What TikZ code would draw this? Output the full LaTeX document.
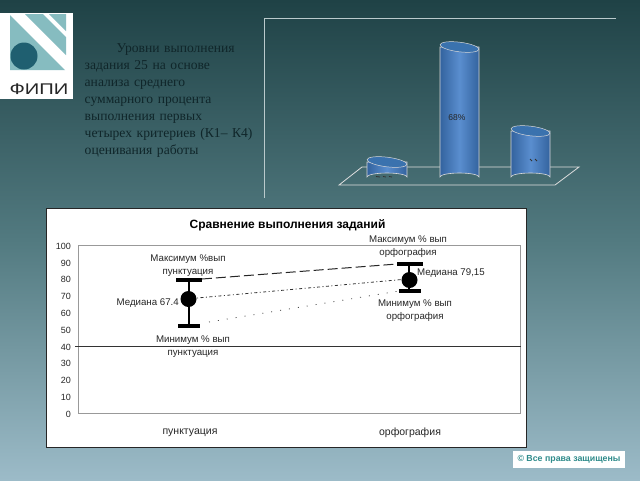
\documentclass[tikz,border=0pt]{standalone}
\usepackage{fontspec}
\setmainfont{Liberation Sans}
\newfontfamily\serifru{Liberation Serif}
\usetikzlibrary{calc}
\definecolor{bgtop}{HTML}{1F4246}
\definecolor{bgmid}{HTML}{527A80}
\definecolor{bgbot}{HTML}{9CBBC8}
\definecolor{logoteal}{HTML}{86BCC0}
\definecolor{logodark}{HTML}{1F5F70}
\definecolor{barblue}{HTML}{5A8ECF}
\definecolor{bardark}{HTML}{33639E}
\definecolor{bartop}{HTML}{3A72AE}
\definecolor{textdark}{HTML}{10262A}
\definecolor{rightsgreen}{HTML}{2E8B8B}
\newcommand{\fl}[1]{\makebox[173pt][s]{#1}\\}
\tikzset{
  lbl/.style={font=\fontsize{9.7}{11}\selectfont, text=black!85, align=center, inner sep=0pt},
  axlbl/.style={font=\fontsize{9}{10}\selectfont, text=black!85, anchor=east, inner sep=0pt},
  catlbl/.style={font=\fontsize{10.5}{12}\selectfont, text=black!85, inner sep=0pt},
  capbar/.style={line width=3.6pt, black},
  stem/.style={line width=1.2pt, black},
  med/.style={circle, fill=black, minimum size=16pt, inner sep=0pt},
  barside/.style={left color=bardark, right color=bardark, middle color=barblue, draw=white!70!gray, line width=0.6pt},
  bartopst/.style={fill=bartop, draw=white!70!gray, line width=0.5pt},
  frameline/.style={draw=white!60!bgmid, line width=0.7pt},
}
\begin{document}
\begin{tikzpicture}[x=1pt,y=-1pt]
\useasboundingbox (0,0) rectangle (640,480);
\shade[top color=bgtop, bottom color=bgbot, middle color=bgmid] (0,0) rectangle (640,480);
% logo
\fill[white] (0,13) rectangle (73,99);
\fill[logoteal] (10,15) -- (10,70) -- (65,70) -- cycle;
\fill[logoteal] (25,14) -- (43,14) -- (66,37) -- (66,55) -- cycle;
\fill[logoteal] (49,14) -- (66,14) -- (66,31) -- cycle;
\fill[logodark] (24,56) circle (13.5);
\node[font=\fontsize{15.5}{18}\selectfont, text=black!85, inner sep=0pt, xscale=1.3, transform shape] (logotext) at (39,89) {ФИПИ};
% paragraph
\node[anchor=north west, inner sep=0pt, text width=173pt, align=left, text=textdark,
  font=\serifru\fontsize{13.6}{16.9}\selectfont] (para) at (84.5,43.5)
  {\fl{\hspace*{32pt}Уровни выполнения}
   \fl{задания 25 на основе}
   \fl{анализа среднего}
   \fl{суммарного процента}
   \fl{выполнения первых}
   \fl{четырех критериев (К1– К4)}
   оценивания работы};
% 3d chart frame
\draw[frameline] (616,18) -- (264,18) -- (264,198);
\draw[draw=white!75!gray, line width=0.8pt] (339,185) -- (555,185) -- (579,167) -- (362,167) -- cycle;
% cylinders
\foreach \xa/\xb/\yt/\yb/\nm in {367/407/162/177/a, 440/479/47/177/b, 511/550/131/177/c}{
  \pgfmathsetmacro{\cx}{(\xa+\xb)/2}
  \pgfmathsetmacro{\rx}{(\xb-\xa)/2}
  \path[barside] (\xa,\yt) -- (\xa,\yb) arc[start angle=180,end angle=360,x radius=\rx pt,y radius=-4pt] -- (\xb,\yt) -- cycle;
  \path[bartopst,rotate around={-7:(\cx,\yt)}] (\cx,\yt) ellipse[x radius=\rx pt,y radius=4.8pt];
  \coordinate (\nm) at (\cx,\yt);
}
\node[font=\fontsize{8.5}{9}\selectfont, text=black!85, inner sep=0pt] (lb) at (457,118) {68\%};
\draw[black!80, line width=0.8pt] (376,176.5) -- (380,177) (383,176.5) -- (386,177) (389,176.5) -- (392,177);
\draw[black!80, line width=0.8pt] (530,159) -- (532,161) (535,159) -- (537,161);
% chart panel
\fill[white] (46,208) rectangle (527,448);
\draw[black!85, line width=0.8pt] (46.5,208.5) rectangle (526.5,447.5);
\node[font=\bfseries\fontsize{12}{14}\selectfont, inner sep=0pt] (title) at (287.5,225.5) {Сравнение выполнения заданий};
\draw[black!40, line width=0.7pt] (78.5,245.5) rectangle (520.5,413.5);
\draw[black!80, line width=0.8pt] (75,346) -- (520.5,346);
\foreach \v/\y in {100/246.5,90/263,80/279.5,70/296.5,60/313.5,50/330.5,40/347,30/363.5,20/380.5,10/397.5,0/414.5}
  \node[axlbl] (t\v) at (71,\y) {\v};
% connectors
\coordinate (m1) at (202,279);
\coordinate (m2) at (397,264);
\coordinate (d1) at (197,298);
\coordinate (d2) at (402,279.5);
\coordinate (l1) at (209,322);
\coordinate (l2) at (399,291);
\draw[black!85, line width=1pt, dash pattern=on 10pt off 4pt] (m1) -- (m2);
\draw[black!80, line width=0.8pt, dash pattern=on 1pt off 2.5pt on 3pt off 2.5pt] (d1) -- (d2);
\draw[black!70, line width=0.8pt, dash pattern=on 1pt off 8pt] (l1) -- (l2);
% whiskers
\draw[stem] (189,280) -- (189,326);
\draw[capbar] (176,280) -- (202,280);
\draw[capbar] (178,326) -- (200,326);
\node[med] (med1) at (188.5,299) {};
\draw[stem] (409,264) -- (409,291);
\draw[capbar] (397,264) -- (423,264);
\draw[capbar] (399,291) -- (421,291);
\node[med] (med2) at (409.5,280) {};
% labels
\node[lbl] (a1) at (188,266) {Максимум \%вып\\[2pt]пунктуация};
\node[lbl, anchor=east] (a2) at (179,303) {Медиана 67.4};
\node[lbl] (a3) at (193,346.5) {Минимум \% вып\\[2pt]пунктуация};
\node[lbl] (a4) at (408,247) {Максимум \% вып\\[2pt]орфография};
\node[lbl, anchor=west] (a5) at (417,273.5) {Медиана 79,15};
\node[lbl] (a6) at (415,310.5) {Минимум \% вып\\[2pt]орфография};
\node[catlbl] (c1) at (190,433) {пунктуация};
\node[catlbl] (c2) at (410,433) {орфография};
% rights
\node[fill=white, inner sep=0pt, minimum width=112pt, minimum height=17pt, font=\bfseries\fontsize{8.8}{10}\selectfont, text=rightsgreen] (rights) at (569,459.5) {© Все права защищены};
\end{tikzpicture}
\end{document}
